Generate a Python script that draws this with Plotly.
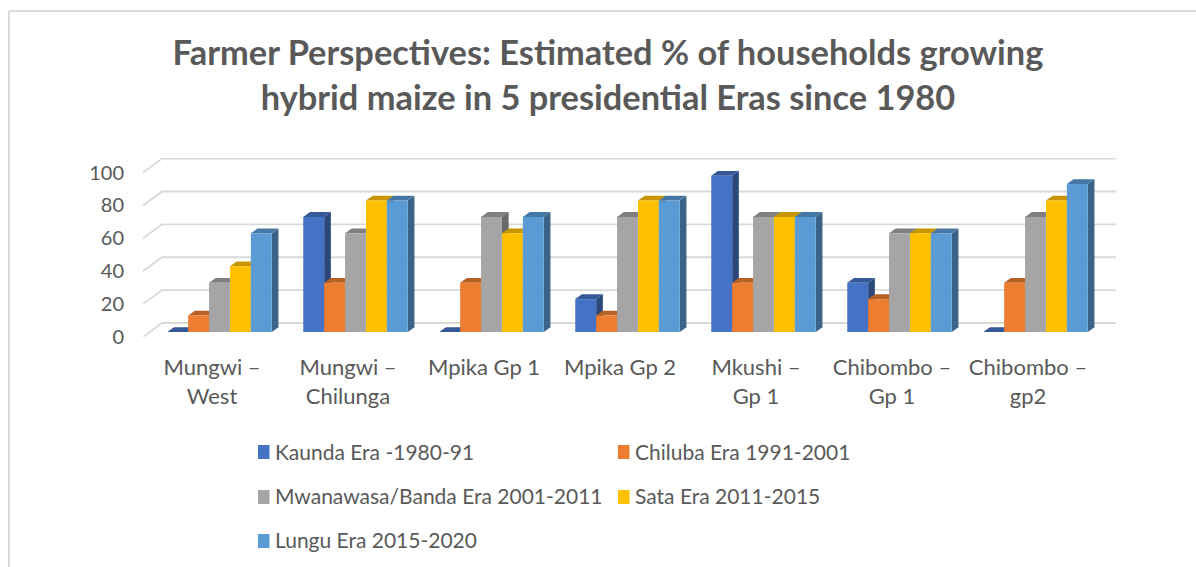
import numpy as np
import plotly.graph_objects as go

sites = ["Mungwi –<br>West", "Mungwi –<br>Chilunga", "Mpika Gp 1", "Mpika Gp 2",
         "Mkushi –<br>Gp 1", "Chibombo –<br>Gp 1", "Chibombo –<br>gp2"]
kaunda = [0, 70, 0, 20, 95, 30, 0]
chiluba = [10, 30, 30, 10, 30, 20, 30]
mwanawasa = [30, 60, 70, 70, 70, 60, 70]
sata = [40, 80, 60, 80, 70, 60, 80]
lungu = [60, 80, 70, 80, 70, 60, 90]
era_names = ["Kaunda Era -1980-91", "Chiluba Era 1991-2001", "Mwanawasa/Banda Era 2001-2011",
             "Sata Era 2011-2015", "Lungu Era 2015-2020"]
era_values = [kaunda, chiluba, mwanawasa, sata, lungu]
colors = ["#4472C4", "#ED7D31", "#A5A5A5", "#FFC000", "#5B9BD5"]
y_ticks = [0, 20, 40, 60, 80, 100]

# pixel geometry of the plot area
W, H = 1196, 567
L, R, T, B = 143, 1116, 158, 337
PX_Y = 1.644                # pixels per percentage point
PX_X = 136.0                # pixels per category
X0_PX = 212                 # pixel position of the first category
xmin = (L - X0_PX) / PX_X
xmax = (R - X0_PX) / PX_X
ymax = (B - T) / PX_Y

# oblique-projection offsets, in axis units
wall_dx, wall_dy = 19 / PX_X, 14 / PX_Y
bar_x, bar_y = 7.5 / PX_X, 5 / PX_Y
depth_x, depth_y = 6.7 / PX_X, 4.8 / PX_Y
GROUP = 104.5 / PX_X
BW = GROUP / 5


def shade(hex_color, f):
    r, g, b = (int(hex_color[i:i + 2], 16) for i in (1, 3, 5))
    return f"rgb({int(r * f)},{int(g * f)},{int(b * f)})"


def poly(pts):
    return "M" + " L".join(f"{x:.4f},{y:.4f}" for x, y in pts) + " Z"


def px(x):
    return (x - L) / (R - L)


def py(y):
    return (B - y) / (B - T)


shapes = []
for t in y_ticks:
    path = f"M{xmin:.4f},{t} L{xmin + wall_dx:.4f},{t + wall_dy:.4f} L{xmax:.4f},{t + wall_dy:.4f}"
    shapes.append(dict(type="path", path=path, xref="x", yref="y", layer="below",
                       line=dict(color="#D9D9D9", width=1.8)))

# side and top faces, painted left to right behind the native bars
for c in range(len(sites)):
    for k, vals in enumerate(era_values):
        left = c + bar_x - GROUP / 2 + k * BW
        right = left + BW
        lo, hi = bar_y, bar_y + vals[c]
        side = [(right, lo), (right + depth_x, lo + depth_y), (right + depth_x, hi + depth_y), (right, hi)]
        top = [(left, hi), (left + depth_x, hi + depth_y), (right + depth_x, hi + depth_y), (right, hi)]
        shapes.append(dict(type="path", path=poly(side), xref="x", yref="y", layer="below",
                           fillcolor=shade(colors[k], 0.64), line=dict(width=0)))
        shapes.append(dict(type="path", path=poly(top), xref="x", yref="y", layer="below",
                           fillcolor=shade(colors[k], 0.78), line=dict(width=0)))

fig = go.Figure()
positions = np.arange(len(sites)) + bar_x
for name, vals, col in zip(era_names, era_values, colors):
    fig.add_trace(go.Bar(x=positions, y=vals, base=bar_y, name=name, marker=dict(color=col, line=dict(width=0)),
                         showlegend=False))

# chart frame
shapes.append(dict(type="line", xref="paper", yref="paper", x0=px(9), x1=px(9), y0=py(11), y1=py(567),
                   line=dict(color="#DADADA", width=2)))
shapes.append(dict(type="line", xref="paper", yref="paper", x0=px(9), x1=px(1196), y0=py(11), y1=py(11),
                   line=dict(color="#DADADA", width=2)))

# legend laid out as in the reference
annotations = []
legend_pos = [(258, 452, 451), (618, 452, 451), (258, 497, 495), (618, 497, 495), (258, 541, 539)]
for (lx, sy, ty), name, col in zip(legend_pos, era_names, colors):
    shapes.append(dict(type="rect", xref="paper", yref="paper", x0=px(lx), x1=px(lx + 11.5),
                       y0=py(sy - 7), y1=py(sy + 7), fillcolor=col, line=dict(width=0)))
    annotations.append(dict(xref="paper", yref="paper", x=px(lx + 15), y=py(ty), text=name, showarrow=False,
                            xanchor="left", yanchor="middle", font=dict(family="Lato", size=21, color="#595959")))

fig.update_layout(
    width=W, height=H, autosize=False,
    margin=dict(l=L, r=W - R, t=T, b=H - B),
    paper_bgcolor="white", plot_bgcolor="rgba(0,0,0,0)",
    barmode="group", bargap=1 - GROUP, bargroupgap=0,
    title=dict(text="<b>Farmer Perspectives: Estimated % of households growing<br>hybrid maize in 5 presidential Eras since 1980</b>",
               x=px(608), xref="paper", xanchor="center", y=1 - 65 / H, yref="container", yanchor="middle",
               font=dict(family="Lato", size=34.4, color="#595959")),
    xaxis=dict(range=[xmin, xmax], tickmode="array", tickvals=list(range(len(sites))), ticktext=sites,
               showgrid=False, zeroline=False, showline=False, ticks="", ticklabelstandoff=15,
               tickfont=dict(family="Lato", size=22, color="#595959")),
    yaxis=dict(range=[0, ymax], tickmode="array", tickvals=y_ticks, showgrid=False, zeroline=False,
               showline=False, ticks="", ticklabelstandoff=18,
               tickfont=dict(family="Lato", size=20, color="#595959")),
    shapes=shapes, annotations=annotations,
)
fig.write_html("out.html", config=dict(displayModeBar=False), post_script="document.body.style.margin='0';")
